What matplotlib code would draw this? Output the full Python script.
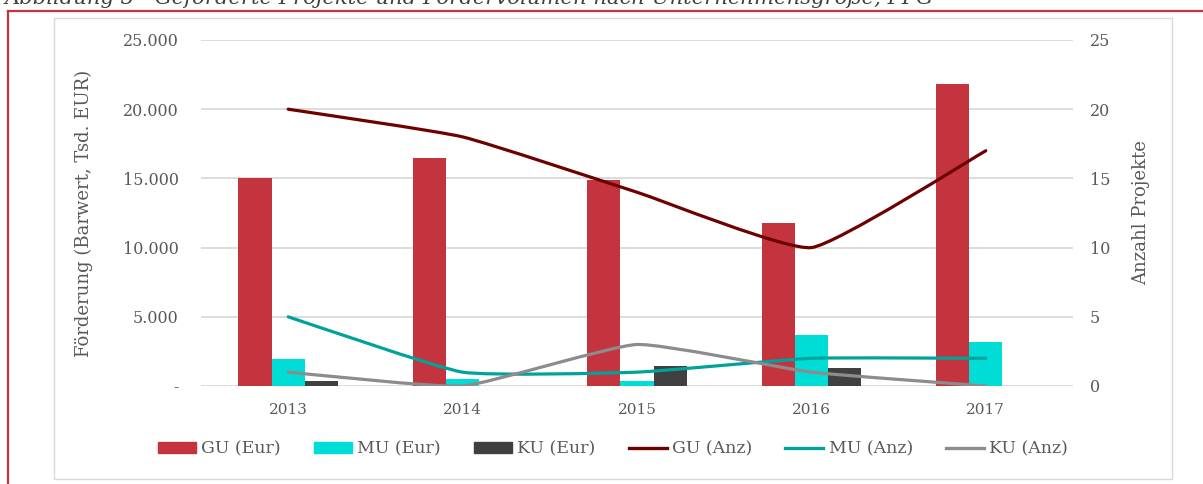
import numpy as np
import matplotlib.pyplot as plt
from matplotlib.path import Path
from matplotlib.patches import PathPatch, Rectangle
from matplotlib.lines import Line2D

# data
years = ['2013', '2014', '2015', '2016', '2017']
gu_eur = [15050, 16450, 14900, 11750, 21800]
mu_eur = [1950, 500, 350, 3700, 3200]
ku_eur = [350, 0, 1450, 1300, 0]
gu_anz = [20, 18, 14, 10, 17]
mu_anz = [5, 1, 1, 2, 2]
ku_anz = [1, 0, 3, 1, 0]

c_gu, c_mu, c_ku = '#C4343F', '#00DCD6', '#404040'
l_gu, l_mu, l_ku = '#6E0000', '#00A29C', '#8C8C8C'
txt = '#595959'

plt.rcParams['font.family'] = ['DejaVu Serif']


def smooth_path(xs, ys, k=14):
    # slightly smoothed line: cubic bezier through the points
    pts = np.column_stack([xs, ys]).astype(float)
    n = len(pts)
    verts = [pts[0]]
    codes = [Path.MOVETO]
    for i in range(n - 1):
        p0 = pts[i - 1] if i > 0 else pts[i]
        p1, p2 = pts[i], pts[i + 1]
        p3 = pts[i + 2] if i + 2 < n else pts[i + 1]
        verts += [p1 + (p2 - p0) / k, p2 - (p3 - p1) / k, p2]
        codes += [Path.CURVE4] * 3
    return Path(verts, codes)


fig = plt.figure(figsize=(12.03, 4.84), dpi=100)
ax = fig.add_axes([201 / 1203, 1 - 386 / 484, 872 / 1203, 346 / 484])
ax2 = ax.twinx()

x = np.arange(len(years))
w = 0.19
ax.bar(x - w, gu_eur, w, color=c_gu, zorder=2)
ax.bar(x, mu_eur, w, color=c_mu, zorder=2)
ax.bar(x + w, ku_eur, w, color=c_ku, zorder=2)

for vals, col in [(gu_anz, l_gu), (mu_anz, l_mu), (ku_anz, l_ku)]:
    ax2.add_patch(PathPatch(smooth_path(x, vals), facecolor='none', edgecolor=col,
                            lw=2.3, capstyle='round', joinstyle='round'))

ax.set_xlim(-0.5, 4.5)
ax.set_ylim(0, 25000)
ax2.set_ylim(0, 25)
ax.set_yticks(range(0, 25001, 5000))
ax.set_yticklabels(['-', '5.000', '10.000', '15.000', '20.000', '25.000'])
ax2.set_yticks(range(0, 26, 5))
ax.set_xticks(x)
ax.set_xticklabels(years)
ax.grid(axis='y', color='#D9D9D9', lw=1.3, zorder=0)
ax.set_axisbelow(True)

for a in (ax, ax2):
    for s in a.spines.values():
        s.set_visible(False)
ax.tick_params(axis='y', length=0, pad=16, labelsize=11.5, labelcolor=txt)
ax.tick_params(axis='x', length=0, pad=12, labelsize=11, labelcolor=txt)
ax2.tick_params(axis='y', length=0, pad=12, labelsize=11.5, labelcolor=txt)

ax.set_ylabel('Förderung (Barwert, Tsd. EUR)', fontsize=13, color=txt)
ax.yaxis.set_label_coords(-0.124, 0.5)
ax2.set_ylabel('Anzahl Projekte', fontsize=13, color=txt)
ax2.yaxis.set_label_coords(1.068, 0.5)

# legend
handles = [Rectangle((0, 0), 1, 1, color=c_gu), Rectangle((0, 0), 1, 1, color=c_mu),
           Rectangle((0, 0), 1, 1, color=c_ku),
           Line2D([], [], color=l_gu, lw=2.4), Line2D([], [], color=l_mu, lw=2.4),
           Line2D([], [], color=l_ku, lw=2.4)]
labels = ['GU (Eur)', 'MU (Eur)', 'KU (Eur)', 'GU (Anz)', 'MU (Anz)', 'KU (Anz)']
fig.legend(handles, labels, loc='center', bbox_to_anchor=(613 / 1203, 1 - 449 / 484),
           ncol=6, frameon=False, fontsize=12.5, labelcolor=txt, handlelength=2.2,
           handleheight=0.6, handletextpad=0.3, columnspacing=1.9)

# chart frame and red border
fig.add_artist(Rectangle((54 / 1203, 1 - 479 / 484), 1118 / 1203, 461 / 484,
                         transform=fig.transFigure, fill=False, edgecolor='#D9D9D9', lw=1))
fig.add_artist(Line2D([8 / 1203, 1], [1 - 11 / 484] * 2, transform=fig.transFigure,
                      color='#C4343F', lw=1.6))
fig.add_artist(Line2D([8 / 1203] * 2, [0, 1 - 11 / 484], transform=fig.transFigure,
                      color='#C4343F', lw=1.6))

# caption, cut off at the top edge as in the source
fig.text(5 / 1203, 1 - 4 / 484,
         'Abbildung 3 - Geförderte Projekte und Fördervolumen nach Unternehmensgröße, PPG',
         fontsize=15.2, style='italic', color='#404040', ha='left', va='baseline')

fig.savefig('out.png', dpi=100)
